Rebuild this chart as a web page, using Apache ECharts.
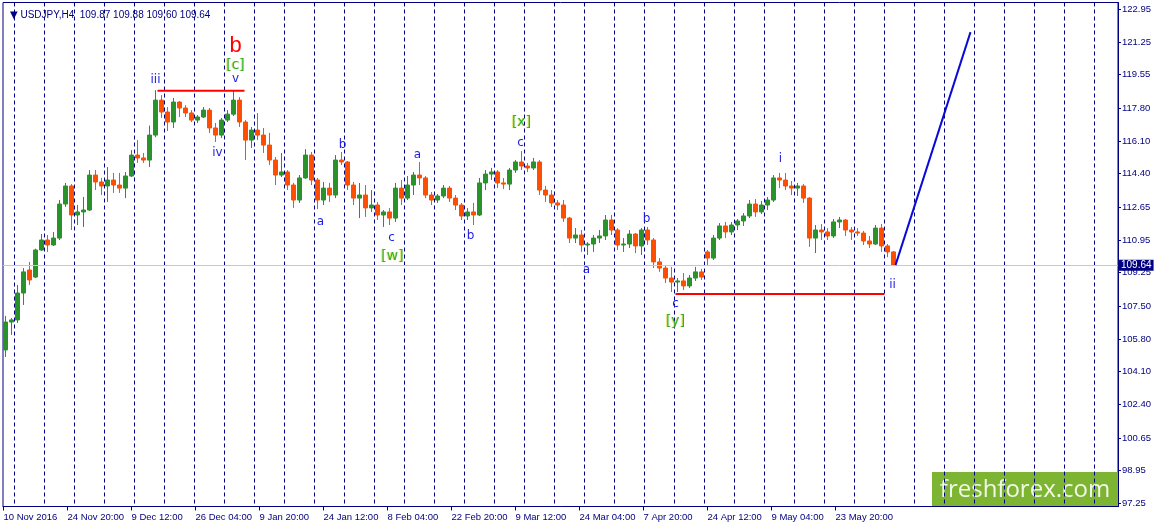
<!DOCTYPE html>
<html><head><meta charset="utf-8">
<script src="https://cdn.jsdelivr.net/npm/echarts@6/dist/echarts.min.js"></script>
<style>html,body{margin:0;padding:0;background:#fff}#c{width:1157px;height:527px}</style>
</head><body><div id="c"></div>
<script>
// ---------- data ----------
const symbolTitle = 'USDJPY,H4';
const lastOHLC = ['109.87', '109.88', '109.60', '109.64'];
const lastPrice = 109.64;
const barsTotal = 1115;      // H4 bar slots on the x axis
const barsPerDay = 6;
const barsPerWeek = 30;
const firstWeekBar = 11;
const labelEvery = 64;
const xTickLabels = ['10 Nov 2016', '24 Nov 20:00', '9 Dec 12:00', '26 Dec 04:00', '9 Jan 20:00',
  '24 Jan 12:00', '8 Feb 04:00', '22 Feb 20:00', '9 Mar 12:00', '24 Mar 04:00', '7 Apr 20:00',
  '24 Apr 12:00', '9 May 04:00', '23 May 20:00'];
const yTickValues = [97.25, 98.95, 100.65, 102.40, 104.10, 105.80, 107.50, 109.25, 110.95,
  112.65, 114.40, 116.10, 117.80, 119.55, 121.25, 122.95];
const yMin = 97.08, yMax = 123.31;
// daily candles: [open, close, low, high]
const dailyCandles = [
  [105.23,106.68,104.86,107.00],[106.68,106.79,106.01,106.89],[106.79,108.19,106.63,108.61],
  [108.19,109.29,107.57,109.49],[109.39,108.87,108.61,109.81],[109.02,110.43,108.97,110.50],
  [110.43,110.95,110.38,111.26],[110.95,110.69,110.33,111.21],[110.69,111.05,110.64,111.37],
  [111.05,112.82,110.95,113.03],[112.82,113.76,112.67,113.92],[113.76,112.25,111.47,113.86],
  [112.25,112.41,111.73,112.77],[112.41,112.51,111.63,113.19],[112.51,114.33,112.46,114.59],
  [114.33,113.97,113.55,114.59],[113.97,113.76,113.29,114.18],[113.76,114.07,112.93,114.75],
  [114.07,113.81,113.40,114.44],[113.81,113.65,113.40,114.44],[113.65,114.28,113.13,114.49],
  [114.28,115.37,114.23,115.63],[115.37,115.22,114.96,116.15],[115.22,115.11,114.96,115.48],
  [115.11,116.41,114.75,116.90],[116.41,118.23,116.30,118.75],[118.23,117.61,117.30,118.49],
  [117.61,117.09,116.62,117.87],[117.09,118.13,116.78,118.34],[118.13,117.82,117.35,118.18],
  [117.82,117.56,117.35,117.97],[117.56,117.19,117.09,117.71],[117.19,117.35,117.04,117.45],
  [117.35,117.71,117.30,117.87],[117.71,116.78,116.52,117.82],[116.78,116.41,116.05,117.04],
  [116.41,117.19,116.26,117.30],[117.19,117.50,117.09,117.71],[117.50,118.23,117.40,118.75],
  [118.23,117.09,116.83,118.39],[117.09,116.15,115.11,117.19],[116.15,116.67,115.74,116.83],
  [116.67,116.41,116.15,117.56],[116.41,115.89,115.48,116.78],[115.89,115.11,114.85,116.52],
  [115.11,114.33,113.81,115.27],[114.33,114.49,114.23,115.48],[114.49,113.81,113.55,114.59],
  [113.81,113.03,112.62,113.92],[113.03,114.18,112.88,114.33],[114.18,115.37,114.13,115.68],
  [115.37,114.07,113.81,115.53],[114.07,113.03,112.56,114.18],[113.03,113.65,112.77,113.97],
  [113.65,113.29,112.93,113.92],[113.29,115.11,113.13,115.37],[115.11,115.01,114.85,115.53],
  [115.01,113.81,113.55,115.06],[113.81,113.13,112.77,113.97],[113.13,113.29,112.09,113.92],
  [113.29,112.62,112.15,113.81],[112.62,112.77,112.41,113.55],[112.77,112.25,111.99,112.93],
  [112.25,112.41,111.63,112.51],[112.41,112.09,111.73,112.61],[112.09,113.65,111.89,113.92],
  [113.65,113.13,112.77,114.07],[113.13,113.81,113.03,114.28],[113.81,114.33,113.29,114.49],
  [114.33,114.18,113.81,115.01],[114.18,113.29,113.13,114.28],[113.29,113.03,112.77,113.45],
  [113.03,113.24,112.88,113.34],[113.24,113.65,113.13,113.81],[113.65,113.13,112.93,113.76],
  [113.13,112.77,112.51,113.29],[112.77,112.20,111.99,112.88],[112.20,112.41,111.99,112.61],
  [112.41,112.25,111.73,112.88],[112.25,113.92,112.20,114.18],[113.92,114.38,113.55,114.59],
  [114.38,114.49,114.07,114.70],[114.49,113.92,113.65,114.59],[113.92,113.86,113.60,114.18],
  [113.86,114.59,113.55,114.70],[114.59,115.01,114.44,115.11],[115.01,114.80,114.59,115.58],
  [114.80,114.70,114.49,114.96],[114.70,115.01,114.59,115.22],[115.01,113.55,113.29,115.11],
  [113.55,113.29,112.93,113.76],[113.29,112.88,112.67,113.55],[112.88,112.77,112.51,113.03],
  [112.77,112.09,111.89,113.03],[112.09,111.05,110.79,112.15],[111.05,111.21,110.79,111.57],
  [111.21,110.69,110.33,111.47],[110.69,110.74,110.17,110.84],[110.74,111.05,110.33,111.21],
  [111.05,111.16,110.79,111.47],[111.16,111.99,110.95,112.25],[111.99,111.47,111.21,112.25],
  [111.47,110.69,110.43,111.57],[110.69,110.74,110.33,111.05],[110.74,111.26,110.53,111.47],
  [111.26,110.64,110.27,111.31],[110.64,111.47,110.17,111.57],[111.47,110.95,110.69,111.63],
  [110.95,109.81,109.49,111.05],[109.81,109.49,109.29,110.01],[109.49,108.97,108.71,109.60],
  [108.97,108.76,108.24,109.55],[108.76,108.82,108.24,108.97],[108.82,108.56,108.35,109.23],
  [108.56,108.97,108.45,109.13],[108.97,109.29,108.82,109.55],[109.29,109.02,108.87,109.45],
  [110.33,110.01,109.65,110.43],[110.01,111.05,109.91,111.21],[111.05,111.68,110.95,111.83],
  [111.68,111.37,111.05,111.89],[111.37,111.73,111.21,111.89],[111.73,111.94,111.47,112.04],
  [111.94,112.20,111.68,112.35],[112.20,112.82,112.09,113.03],[112.82,112.41,112.15,113.08],
  [112.41,112.77,112.30,112.98],[112.77,113.03,112.51,113.19],[113.03,114.18,112.93,114.33],
  [114.18,114.07,113.65,114.44],[114.07,113.76,113.55,114.44],[113.76,113.65,113.29,114.02],
  [113.65,113.76,113.24,113.92],[113.76,113.13,112.88,113.86],[113.13,111.05,110.59,113.18],
  [111.05,111.47,110.27,111.73],[111.47,111.37,110.95,111.78],[111.37,111.16,110.95,111.57],
  [111.16,111.89,111.05,112.04],[111.89,111.99,111.57,112.15],[111.99,111.47,111.16,112.04],
  [111.47,111.37,110.95,111.63],[111.37,111.31,111.16,111.57],[111.31,110.90,110.69,111.42],
  [110.90,110.74,110.53,111.16],[110.74,111.57,110.69,111.73],[111.57,110.64,110.33,111.78],
  [110.64,110.33,110.06,110.74],[110.33,109.64,109.60,110.38]
];
// drawn trend lines: [bar index, price]
const resistanceLine = [[154, 118.72], [241, 118.72]];
const supportLine = [[672, 108.14], [881, 108.14]];
const forecastLine = [[892, 109.64], [967, 121.77]];
// wave labels: [bar index, price, text]
const majorLabels = [[232, 121.04, 'b']];
const bracketLabels = [[232, 120.06, '[c]'], [389, 110.12, '[w]'], [518, 117.09, '[x]'], [672, 106.74, '[y]']];
const waveLabels = [
  [152, 119.27, 'iii'], [232, 119.32, 'v'], [214, 115.48, 'iv'], [317, 111.89, 'a'],
  [339, 115.89, 'b'], [388, 111.05, 'c'], [414, 115.37, 'a'], [467, 111.16, 'b'],
  [517, 116.00, 'c'], [583, 109.39, 'a'], [643, 112.04, 'b'], [672, 107.62, 'c'],
  [777, 115.16, 'i'], [889, 108.61, 'ii']
];

// ---------- build ----------
const categories = Array.from({length: barsTotal}, (_, i) => String(i));
const candleSeriesData = categories.map(() => '-');
dailyCandles.forEach((c, d) => { candleSeriesData[d * barsPerDay + 2] = c; });

const NAVY = '#000080';
const FONT = 'Liberation Sans';
const isLabelBar = i => i % labelEvery === 0 && i / labelEvery < xTickLabels.length;

function textSeries(list, style) {
  return {
    type: 'scatter', symbol: 'circle', symbolSize: 1, silent: true, z: 10,
    itemStyle: {color: 'rgba(0,0,0,0)'},
    data: list.map(r => ({value: [r[0], r[1]], name: r[2]})),
    label: Object.assign({show: true, position: 'inside', formatter: p => p.name, fontFamily: FONT,
      opacity: 1, textBorderWidth: 0, textBorderColor: 'transparent'}, style)
  };
}
function lineSeries(data, color, width) {
  return {type: 'line', data: data, symbol: 'none', silent: true, z: 5,
    lineStyle: {color: color, width: width}, animation: false};
}

const chart = echarts.init(document.getElementById('c'), null, {renderer: 'canvas'});
chart.setOption({
  animation: false,
  backgroundColor: '#ffffff',
  title: {
    text: '{t|▼} ' + symbolTitle + '  ' + lastOHLC.join(' '),
    left: 5, top: 5,
    textStyle: {fontFamily: FONT, fontSize: 10, fontWeight: 'normal', color: NAVY,
      rich: {t: {fontSize: 10, color: NAVY, fontFamily: 'DejaVu Sans'}}}
  },
  grid: {left: 3, right: 39, top: 2.5, bottom: 20.5, show: true, borderColor: NAVY, borderWidth: 1},
  xAxis: {
    type: 'category', data: categories, boundaryGap: true,
    axisLine: {show: true, lineStyle: {color: NAVY, width: 1}},
    axisTick: {show: true, alignWithLabel: true, interval: (i) => isLabelBar(i), length: 4,
      lineStyle: {color: NAVY}},
    axisLabel: {interval: (i) => isLabelBar(i), formatter: (v, i) => xTickLabels[Math.round(Number(v) / labelEvery)],
      align: 'left', margin: 6, color: NAVY, fontFamily: FONT, fontSize: 9.5},
    splitLine: {show: true, interval: (i) => (i - firstWeekBar) % barsPerWeek === 0 && i >= firstWeekBar,
      lineStyle: {color: NAVY, type: [4, 3], width: 1}}
  },
  yAxis: {
    type: 'value', position: 'right', min: yMin, max: yMax, scale: true,
    axisLine: {show: true, lineStyle: {color: NAVY}},
    axisTick: {show: true, length: 3, customValues: yTickValues, lineStyle: {color: NAVY}},
    axisLabel: {customValues: yTickValues, formatter: v => Number(v).toFixed(2), color: NAVY,
      fontFamily: FONT, fontSize: 9.5, margin: 4},
    splitLine: {show: false}
  },
  series: [
    {
      type: 'candlestick', data: candleSeriesData, large: false, progressive: 0,
      barWidth: 4, barMinWidth: 4, barMaxWidth: 4, z: 3,
      itemStyle: {color: '#2a922a', color0: '#ff4e00', borderColor: '#2a922a', borderColor0: '#ff4e00', borderWidth: 1},
      markLine: {
        silent: true, symbol: ['none', 'none'],
        lineStyle: {color: '#c8c8c8', width: 1, type: 'solid'},
        label: {show: true, position: 'end', distance: 1, formatter: lastPrice.toFixed(2),
          backgroundColor: NAVY, color: '#ffffff', fontFamily: FONT, fontSize: 10, padding: [1, 2, 0, 2]},
        data: [{yAxis: lastPrice}]
      }
    },
    lineSeries(resistanceLine, '#ff0000', 2),
    lineSeries(supportLine, '#ff0000', 2),
    lineSeries(forecastLine, '#0a0ad8', 2),
    textSeries(waveLabels, {color: '#1e1ee0', fontSize: 12, fontFamily: 'DejaVu Sans'}),
    textSeries(bracketLabels, {color: '#2fb02f', fontSize: 14, fontFamily: 'DejaVu Sans', textShadowColor: 'rgba(200,210,0,0.7)', textShadowBlur: 1, textShadowOffsetX: -1}),
    textSeries(majorLabels, {color: '#ff0000', fontSize: 22})
  ],
  graphic: [{
    type: 'group', right: 39, bottom: 20,
    children: [
      {type: 'rect', shape: {x: 0, y: 0, width: 186, height: 35}, style: {fill: '#7db533'}},
      {type: 'text', x: 93, y: 18, style: {text: 'freshforex.com', fill: '#f2f8e6', font: '24px "Open Sans"',
        textAlign: 'center', textVerticalAlign: 'middle'}}
    ]
  }]
});
</script>
</body></html>
